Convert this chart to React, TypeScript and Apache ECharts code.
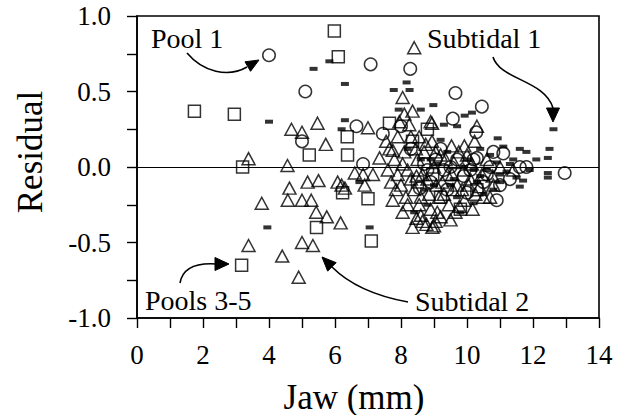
import React, { useEffect, useRef } from "react";
import * as echarts from "echarts";

// Pool 1 (circles)
const pool1: number[][] = [
  [4.0, 0.74], [5.1, 0.5], [7.08, 0.68], [8.28, 0.65], [9.65, 0.49], [10.45, 0.4],
  [6.65, 0.27], [8.0, 0.27], [9.57, 0.32], [7.45, 0.22], [10.28, 0.23], [5.0, 0.17],
  [6.85, 0.02], [9.05, 0.05], [8.57, -0.14], [10.9, -0.22], [10.8, 0.1], [11.1, 0.09],
  [12.96, -0.04], [11.8, 0.0], [10.3, 0.06], [10.0, -0.17], [11.6, 0.0], [8.3, 0.12],
  [9.5, 0.0], [9.9, -0.06], [10.5, -0.1], [8.9, -0.1], [10.2, 0.05], [9.3, -0.02],
  [10.6, -0.05], [11.3, -0.08], [8.7, 0.02], [9.2, 0.12], [9.7, 0.05], [10.1, -0.02],
  [10.7, 0.0], [11.0, -0.12], [8.8, -0.02], [9.4, -0.15],
];

// Pools 3-5 (squares)
const pools35: number[][] = [
  [1.74, 0.37], [2.95, 0.35], [3.2, 0.0], [3.17, -0.65], [5.98, 0.9], [6.1, 0.73],
  [7.65, 0.29], [6.37, 0.2], [5.22, 0.08], [6.38, 0.08], [6.23, -0.17], [7.0, -0.21],
  [5.44, -0.4], [7.1, -0.49], [8.35, 0.17], [8.96, -0.05], [9.8, -0.28], [8.8, 0.25],
  [8.5, -0.1], [9.2, -0.2], [10.3, -0.15],
];

// Subtidal 1 (dashes)
const subtidal1: number[][] = [
  [4.0, 0.3], [5.35, 0.65], [5.83, 0.7], [6.3, 0.55], [8.17, 0.56], [7.78, 0.51],
  [8.26, 0.51], [8.98, 0.41], [7.93, 0.38], [8.6, 0.38], [6.3, 0.31], [6.2, 0.25],
  [9.93, 0.34], [10.15, 0.36], [9.3, 0.28], [9.7, 0.27], [7.05, -0.4], [3.95, -0.4],
  [6.74, -0.1], [10.93, 0.19], [11.8, 0.1], [12.5, 0.12], [12.45, 0.06], [12.62, 0.25],
  [12.45, -0.04], [12.45, -0.07], [11.6, -0.13], [11.1, 0.135], [11.7, -0.09],
  [10.8, -0.15], [11.0, -0.1], [11.5, -0.07], [10.4, -0.06], [8.2, 0.12], [8.6, 0.05],
  [9.0, -0.12], [9.6, -0.08], [10.0, 0.05], [10.4, 0.12], [10.6, -0.02], [9.2, 0.18],
  [8.8, -0.25], [9.8, -0.3], [10.2, -0.24], [8.4, -0.3], [11.2, -0.03], [11.4, 0.05],
  [10.9, 0.03], [9.1, 0.02], [9.5, -0.12], [9.9, 0.0], [10.3, -0.1], [10.7, 0.08],
  [11.0, -0.05], [11.3, 0.02], [10.2, -0.02], [9.4, 0.1], [8.9, 0.05], [10.5, -0.18],
  [11.9, -0.02], [12.1, 0.05], [11.6, 0.12], [9.7, -0.2], [8.7, -0.15],
];

// Subtidal 2 (triangles)
const subtidal2: number[][] = [
  [8.4, 0.79], [8.05, 0.46], [8.35, 0.37], [8.9, 0.3], [10.3, 0.27], [7.0, 0.26],
  [5.47, 0.29], [4.68, 0.25], [5.0, 0.23], [3.38, 0.055], [4.56, 0.01], [4.62, -0.14],
  [4.57, -0.22], [3.78, -0.24], [5.17, -0.1], [5.5, -0.09], [5.0, -0.22], [5.28, -0.22],
  [5.43, -0.3], [5.75, -0.33], [3.38, -0.52], [4.4, -0.59], [5.0, -0.5], [5.33, -0.52],
  [4.9, -0.73], [5.72, 0.15], [6.17, -0.37], [6.08, -0.1], [6.3, -0.14], [6.2, -0.12],
  [6.9, -0.12], [6.6, -0.04], [6.85, -0.05], [7.15, -0.05], [7.75, -0.22], [8.2, -0.25],
  [8.47, -0.34], [8.77, -0.38], [9.0, -0.39], [8.47, -0.06], [7.55, 0.17], [7.75, 0.11],
  [7.35, 0.06], [8.94, 0.29], [8.94, 0.17], [9.53, 0.14], [9.92, 0.14], [10.23, 0.17],
  [9.07, -0.12], [9.57, -0.15], [9.92, -0.22], [10.17, -0.28], [9.77, -0.26],
  [10.38, -0.13], [10.78, -0.06], [11.4, -0.02], [7.8, 0.05], [7.9, -0.05],
  [8.0, -0.12], [8.1, 0.1], [8.2, -0.02], [8.3, 0.2], [8.4, -0.15], [8.5, 0.05],
  [8.6, -0.2], [8.7, 0.1], [8.8, -0.08], [8.9, -0.28], [9.0, 0.0], [9.1, -0.3],
  [9.2, 0.08], [9.3, -0.18], [9.4, -0.05], [9.5, -0.35], [9.6, 0.03], [9.7, -0.12],
  [9.9, -0.02], [10.0, 0.08], [10.1, -0.08], [10.5, -0.2], [10.6, 0.05], [10.8, -0.12],
  [8.05, -0.3], [8.35, -0.4], [8.65, -0.36], [8.95, -0.4], [9.05, -0.36], [7.7, -0.1],
  [7.6, -0.02], [8.25, 0.28], [8.55, 0.2], [7.9, 0.2], [7.65, 0.12], [7.85, -0.15],
  [8.05, 0.02], [8.15, -0.2], [8.3, -0.08], [8.45, 0.12], [8.55, -0.25], [8.65, -0.05],
  [8.75, 0.15], [8.85, -0.18], [9.05, 0.1], [9.15, -0.2], [9.25, -0.1], [9.35, 0.05],
  [9.45, -0.25], [9.55, -0.05], [9.65, -0.3], [9.75, 0.1], [9.85, -0.15], [10.05, -0.12],
  [10.15, 0.02], [10.25, -0.18], [10.45, -0.05], [10.7, -0.2], [11.0, 0.0], [8.6, -0.32],
  [9.2, -0.33], [7.95, 0.3], [8.1, 0.35],
];

const FONT = "'Liberation Serif', 'Times New Roman', serif";

function arrowHead(tipX: number, tipY: number, fromX: number, fromY: number, len: number, width: number) {
  const dx = tipX - fromX;
  const dy = tipY - fromY;
  const d = Math.sqrt(dx * dx + dy * dy) || 1;
  const ux = dx / d;
  const uy = dy / d;
  const bx = tipX - ux * len;
  const by = tipY - uy * len;
  const px = -uy * (width / 2);
  const py = ux * (width / 2);
  return {
    type: "polygon",
    shape: { points: [[tipX, tipY], [bx + px, by + py], [bx - px, by - py]] },
    style: { fill: "#000", stroke: "#000", lineWidth: 1 },
    silent: true,
  };
}

function curve(x1: number, y1: number, c1x: number, c1y: number, c2x: number, c2y: number, x2: number, y2: number) {
  return {
    type: "bezierCurve",
    shape: { x1, y1, cpx1: c1x, cpy1: c1y, cpx2: c2x, cpy2: c2y, x2, y2 },
    style: { stroke: "#000", lineWidth: 1.6, fill: "none" },
    silent: true,
  };
}

function label(text: string, x: number, y: number, size: number, align = "left", rotation = 0) {
  return {
    type: "text",
    x,
    y,
    rotation,
    style: {
      text,
      font: `${size}px ${FONT}`,
      fill: "#000",
      align,
      verticalAlign: "middle",
    },
    silent: true,
  };
}

export default function App() {
  const ref = useRef<HTMLDivElement>(null);

  useEffect(() => {
    if (!ref.current) return;
    const chart = echarts.init(ref.current, undefined, { renderer: "svg" });

    const openStyle = { color: "transparent", borderColor: "#000", borderWidth: 1.5 };

    chart.setOption({
      animation: false,
      backgroundColor: "#fff",
      grid: {
        left: 137,
        right: 25,
        top: 16,
        bottom: 97,
        show: true,
        borderColor: "#000",
        borderWidth: 1.6,
      },
      xAxis: {
        type: "value",
        min: 0,
        max: 14,
        interval: 1,
        axisLine: { show: true, onZero: false, lineStyle: { color: "#000", width: 1.6 } },
        axisTick: { show: true, inside: false, length: 10, lineStyle: { color: "#000", width: 1.4 } },
        splitLine: { show: false },
        axisLabel: {
          color: "#000",
          fontFamily: FONT,
          fontSize: 27,
          margin: 23,
          formatter: (v: number) => (Math.round(v) % 2 === 0 ? String(Math.round(v)) : ""),
        },
      },
      yAxis: {
        type: "value",
        min: -1,
        max: 1,
        interval: 0.25,
        axisLine: { show: true, onZero: false, lineStyle: { color: "#000", width: 1.6 } },
        axisTick: { show: true, inside: false, length: 10, lineStyle: { color: "#000", width: 1.4 } },
        splitLine: { show: false },
        axisLabel: {
          color: "#000",
          fontFamily: FONT,
          fontSize: 27,
          margin: 26,
          formatter: (v: number) => {
            const t = v * 2;
            if (Math.abs(t - Math.round(t)) > 1e-6) return "";
            const s = (Math.round(t) / 2).toFixed(1);
            return s === "-0.0" ? "0.0" : s;
          },
        },
      },
      series: [
        {
          name: "Subtidal 2",
          type: "scatter",
          symbol: "triangle",
          symbolSize: [13, 12],
          itemStyle: openStyle,
          data: subtidal2,
          markLine: {
            silent: true,
            symbol: "none",
            label: { show: false },
            lineStyle: { color: "#000", width: 1.1, type: "solid" },
            data: [{ yAxis: 0 }],
          },
        },
        {
          name: "Pools 3-5",
          type: "scatter",
          symbol: "rect",
          symbolSize: 12,
          itemStyle: openStyle,
          data: pools35,
        },
        {
          name: "Pool 1",
          type: "scatter",
          symbol: "circle",
          symbolSize: 12.5,
          itemStyle: openStyle,
          data: pool1,
        },
        {
          name: "Subtidal 1",
          type: "scatter",
          symbol: "rect",
          symbolSize: [8, 4],
          itemStyle: { color: "#000" },
          data: subtidal1,
        },
      ],
      graphic: [
        label("Residual", 30, 152, 35, "center", Math.PI / 2),
        label("Jaw (mm)", 354, 397, 35, "center"),
        label("Pool 1", 151, 38, 28),
        label("Subtidal 1", 427, 38, 28),
        label("Pools 3-5", 145, 300, 28),
        label("Subtidal 2", 415, 301, 28),
        curve(187, 53, 203, 72, 228, 78, 247, 67),
        arrowHead(259, 60, 247, 67, 13, 11),
        curve(493, 57, 500, 80, 545, 80, 553, 108),
        arrowHead(553, 122, 553, 108, 14, 13),
        curve(180, 283, 183, 266, 200, 263, 216, 264),
        arrowHead(229, 264, 216, 264, 14, 13),
        curve(408, 302, 375, 296, 350, 285, 332, 267),
        arrowHead(322, 257, 332, 267, 14, 12),
      ],
    });

    return () => chart.dispose();
  }, []);

  return (
    <div
      ref={ref}
      style={{ position: "fixed", left: 0, top: 0, width: 624, height: 415 }}
    />
  );
}
